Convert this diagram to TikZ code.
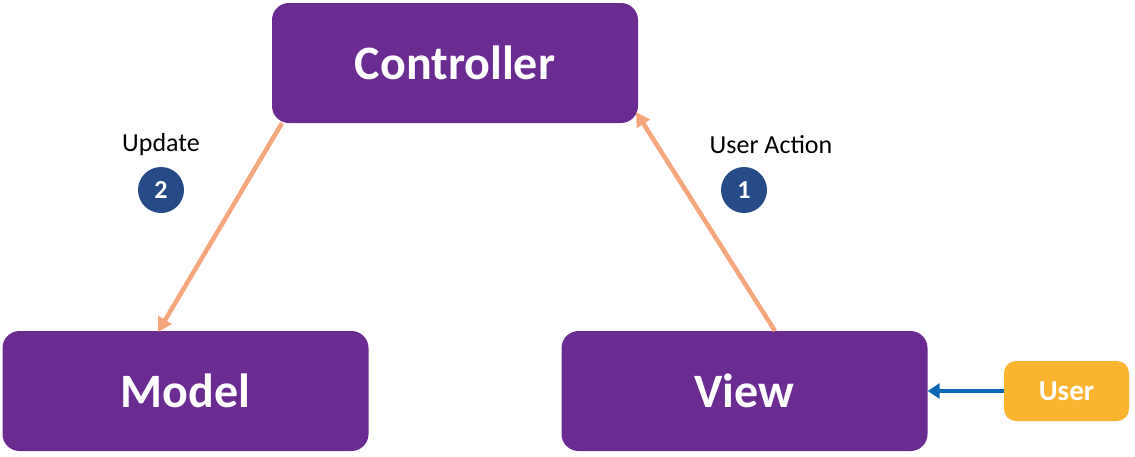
\documentclass[tikz,border=0pt]{standalone}
\usepackage{fontspec}
\setmainfont{Carlito}
\usetikzlibrary{arrows.meta}
\definecolor{boxpurple}{HTML}{6A2C91}
\definecolor{useryellow}{HTML}{FBB430}
\definecolor{arrowsalmon}{HTML}{F5A67C}
\definecolor{circblue}{HTML}{264B87}
\definecolor{linkblue}{HTML}{0B67B5}
\tikzset{
  mainbox/.style={draw=none, fill=boxpurple, rounded corners=17pt, minimum width=366pt, minimum height=120pt, text=white, font=\fontsize{48}{52}\selectfont\bfseries, inner sep=0pt},
  userbox/.style={draw=none, fill=useryellow, rounded corners=12pt, minimum width=125pt, minimum height=60pt, text=white, font=\fontsize{29}{32}\selectfont\bfseries, inner sep=0pt},
  flow/.style={draw=arrowsalmon, line width=4.5pt, -{Triangle[length=14pt,width=15pt]}},
  bluearrow/.style={draw=linkblue, line width=4.5pt, -{Triangle[length=12pt,width=15pt]}},
  stepcirc/.style={circle, fill=circblue, minimum size=46pt, inner sep=0pt, text=white, font=\fontsize{26}{28}\selectfont\bfseries},
  lbl/.style={font=\fontsize{26}{28}\selectfont, text=black, inner sep=0pt}
}
\begin{document}
\begin{tikzpicture}[x=1pt,y=-1pt]
\useasboundingbox (0,0) rectangle (1135,456);
\node[mainbox] (ctrl) at (455,63) {Controller};
\node[mainbox] (model) at (185.5,391) {Model};
\node[mainbox] (view) at (744.5,391) {View};
\node[userbox] (user) at (1066.5,391) {User};
\node[lbl] (upd) at (161,145) {Update};
\node[lbl] (ua) at (771,145) {User Action};
\node[stepcirc] (c2) at (161,190) {2};
\node[stepcirc] (c1) at (744,190) {1};
\coordinate (vtop) at (775,331);
\coordinate (ctip) at (636,112);
\coordinate (cbot) at (282,123);
\coordinate (mtip) at (158,332);
\draw[flow] (vtop) -- (ctip);
\draw[flow] (cbot) -- (mtip);
\draw[bluearrow] (user.west) -- (view.east);
\end{tikzpicture}
\end{document}
